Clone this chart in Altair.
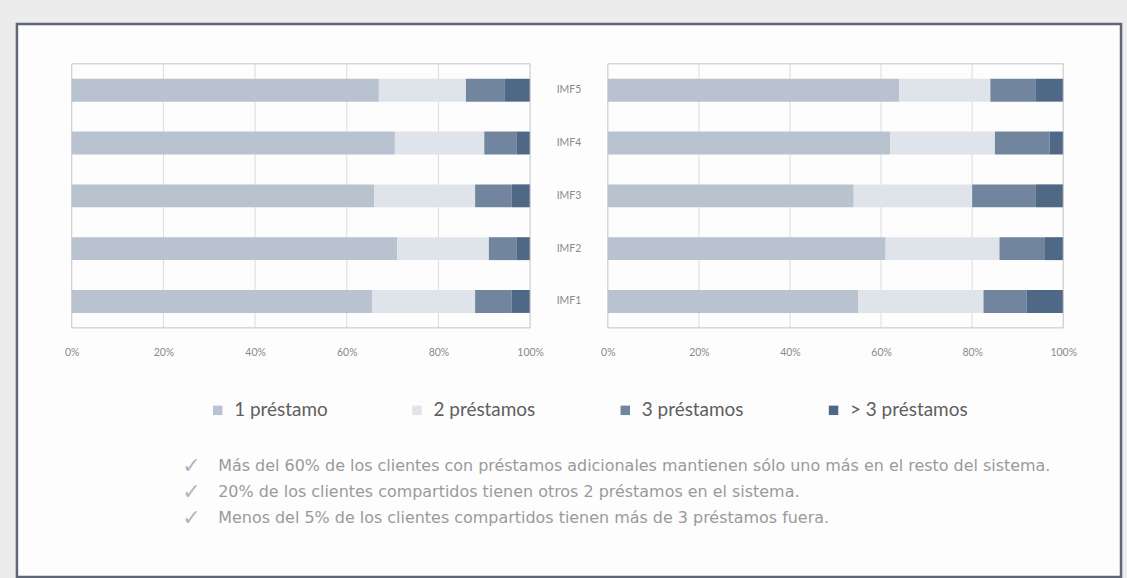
import altair as alt
import pandas as pd

# ---------------- data ----------------
imf = ["IMF5", "IMF4", "IMF3", "IMF2", "IMF1"]
series = ["1 préstamo", "2 préstamos", "3 préstamos", "> 3 préstamos"]

left_1 = [67, 70.5, 66, 71, 65.5]
left_2 = [19, 19.5, 22, 20, 22.5]
left_3 = [8.5, 7, 8, 6, 8]
left_4 = [5.5, 3, 4, 3, 4]

right_1 = [64, 62, 54, 61, 55]
right_2 = [20, 23, 26, 25, 27.5]
right_3 = [10, 12, 14, 10, 9.5]
right_4 = [6, 3, 6, 4, 8]

ticks = [0, 0.2, 0.4, 0.6, 0.8, 1.0]
grid_ticks = [0.2, 0.4, 0.6, 0.8]

notes = [
    "Más del 60% de los clientes con préstamos adicionales mantienen sólo uno más en el resto del sistema.",
    "20% de los clientes compartidos tienen otros 2 préstamos en el sistema.",
    "Menos del 5% de los clientes compartidos tienen más de 3 préstamos fuera.",
]

colors = ["#b9c2cf", "#dfe3ea", "#71869e", "#4f6885"]

PW_L, PW_R, MID, PH = 460, 457, 78, 265


def long_df(vals):
    rows = []
    for si, s in enumerate(series):
        for i, name in enumerate(imf):
            rows.append({"imf": name, "serie": s, "orden": si, "valor": vals[si][i]})
    return pd.DataFrame(rows)


one = pd.DataFrame({"k": [0]})
grid_df = pd.DataFrame({"t": grid_ticks})
notes_df = pd.DataFrame({"i": list(range(len(notes))), "note": notes})


def panel(vals, width, with_frame=False):
    df = long_df(vals)
    bars = alt.Chart(df).mark_bar(size=23).encode(
        x=alt.X(
            "valor:Q",
            stack="normalize",
            scale=alt.Scale(domain=[0, 1]),
            axis=alt.Axis(
                values=ticks, format="%", title=None, grid=False, domain=False,
                ticks=False, labelFlush=False, labelPadding=20, labelFontSize=10.5,
                labelColor="#8a8a8a", labelFont="Lato", zindex=1,
            ),
        ),
        y=alt.Y("imf:N", sort=imf, axis=None),
        color=alt.Color(
            "serie:N",
            sort=series,
            scale=alt.Scale(domain=series, range=colors),
            legend=alt.Legend(title=None),
        ),
        order=alt.Order("orden:Q"),
    )
    grid = alt.Chart(grid_df).mark_rule(color="#dcdcdc", strokeWidth=1).encode(x="t:Q")
    border = alt.Chart(one).mark_rect(fillOpacity=0, stroke="#c4c4c4", strokeWidth=1).encode(
        x=alt.value(0), x2=alt.value(width), y=alt.value(0), y2=alt.value(PH)
    )
    layers = [grid, bars, border]
    if with_frame:
        frame = alt.Chart(one).mark_rect(fill="#fdfdfd", stroke="#5f6675", strokeWidth=2.5).encode(
            x=alt.value(-55), x2=alt.value(1053), y=alt.value(-40), y2=alt.value(515)
        )
        note_scale = alt.Scale(range=[404, 456], padding=0)
        checks = alt.Chart(notes_df).mark_text(
            text="✓", fontSize=22, color="#aab6c6", align="center", font="DejaVu Sans"
        ).encode(y=alt.Y("i:O", axis=None, scale=note_scale), x=alt.value(120))
        note_text = alt.Chart(notes_df).mark_text(
            fontSize=16, color="#9a9a9a", align="left", font="DejaVu Sans"
        ).encode(y=alt.Y("i:O", axis=None, scale=note_scale), text="note:N", x=alt.value(147))
        return (
            alt.layer(frame, grid, bars, border, alt.layer(checks, note_text))
            .resolve_scale(y="independent")
            .properties(width=width, height=PH)
        )
    return alt.layer(*layers).properties(width=width, height=PH)


left = panel([left_1, left_2, left_3, left_4], PW_L, with_frame=True)
right = panel([right_1, right_2, right_3, right_4], PW_R)

middle = alt.Chart(pd.DataFrame({"imf": imf})).mark_text(
    fontSize=10.5, color="#8a8a8a", font="Lato"
).encode(
    y=alt.Y("imf:N", sort=imf, axis=None),
    text="imf:N",
    x=alt.value(MID / 2),
).properties(width=MID, height=PH, view=alt.ViewConfig(strokeWidth=0))

chart = alt.hconcat(left, middle, right, spacing=0, bounds="flush").properties(
    padding={"left": 15, "top": 21, "right": 4, "bottom": 2},
    background="#ececec",
).configure_view(
    stroke="transparent"
).configure_legend(
    orient="none",
    legendX=137,
    legendY=338,
    direction="horizontal",
    labelFontSize=19,
    labelFont="Lato",
    labelColor="#5f5f5f",
    symbolType="square",
    symbolSize=90,
    symbolStrokeWidth=0,
    columnPadding=80,
    labelLimit=0,
    labelOffset=7,
)

chart.save("out.html", embed_options={"renderer": "svg", "actions": False})
